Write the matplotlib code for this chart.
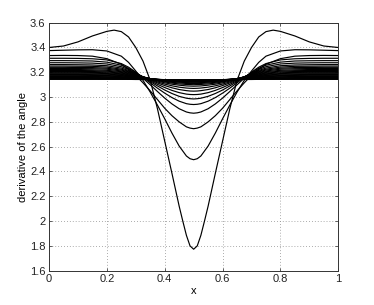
import matplotlib
matplotlib.use('Agg')
import matplotlib.pyplot as plt

# Profiles are symmetric about x = 0.5: values given for the left half (x from 0 to 0.5)
x_first = [0, 0.05, 0.1, 0.15, 0.2, 0.225, 0.25, 0.275, 0.3, 0.325, 0.35, 0.375, 0.4, 0.425, 0.45, 0.4625, 0.475, 0.4875, 0.5]
x_half = [0, 0.05, 0.1, 0.15, 0.2, 0.25, 0.275, 0.3, 0.325, 0.35, 0.375, 0.4, 0.425, 0.45, 0.475, 0.4875, 0.5]

curve_01 = [3.400, 3.412, 3.445, 3.493, 3.530, 3.540, 3.528, 3.485, 3.400, 3.290, 3.135, 2.905, 2.645, 2.385, 2.120, 2.000, 1.885, 1.800, 1.773]
curve_02 = [3.375, 3.378, 3.381, 3.382, 3.372, 3.330, 3.280, 3.210, 3.135, 3.040, 2.935, 2.825, 2.710, 2.605, 2.525, 2.503, 2.495]
curve_03 = [3.335, 3.336, 3.335, 3.330, 3.310, 3.265, 3.225, 3.175, 3.115, 3.050, 2.980, 2.910, 2.850, 2.800, 2.760, 2.750, 2.745]
curve_04 = [3.313, 3.313, 3.312, 3.309, 3.300, 3.270, 3.241, 3.201, 3.152, 3.099, 3.045, 2.992, 2.945, 2.906, 2.880, 2.873, 2.870]
curve_05 = [3.294, 3.294, 3.293, 3.291, 3.282, 3.257, 3.232, 3.199, 3.159, 3.115, 3.072, 3.032, 2.996, 2.967, 2.947, 2.942, 2.940]
curve_06 = [3.277, 3.277, 3.276, 3.274, 3.267, 3.245, 3.223, 3.195, 3.161, 3.125, 3.090, 3.057, 3.029, 3.006, 2.991, 2.987, 2.985]
curve_07 = [3.262, 3.262, 3.261, 3.259, 3.253, 3.234, 3.215, 3.191, 3.162, 3.132, 3.103, 3.077, 3.054, 3.036, 3.024, 3.021, 3.020]
curve_08 = [3.250, 3.250, 3.249, 3.248, 3.242, 3.225, 3.209, 3.188, 3.163, 3.138, 3.114, 3.093, 3.075, 3.061, 3.052, 3.049, 3.048]
curve_09 = [3.240, 3.240, 3.239, 3.238, 3.233, 3.218, 3.204, 3.185, 3.164, 3.142, 3.122, 3.105, 3.091, 3.080, 3.073, 3.071, 3.070]
curve_10 = [3.231, 3.231, 3.230, 3.229, 3.225, 3.211, 3.199, 3.183, 3.164, 3.146, 3.129, 3.115, 3.104, 3.096, 3.090, 3.089, 3.088]
curve_11 = [3.222, 3.222, 3.222, 3.220, 3.216, 3.205, 3.194, 3.180, 3.163, 3.148, 3.134, 3.122, 3.113, 3.106, 3.102, 3.101, 3.100]
curve_12 = [3.214, 3.214, 3.214, 3.213, 3.209, 3.199, 3.189, 3.176, 3.162, 3.149, 3.137, 3.127, 3.119, 3.114, 3.110, 3.109, 3.109]
curve_13 = [3.207, 3.207, 3.207, 3.206, 3.203, 3.193, 3.185, 3.174, 3.161, 3.149, 3.139, 3.131, 3.125, 3.120, 3.117, 3.116, 3.116]
curve_14 = [3.200, 3.200, 3.200, 3.199, 3.196, 3.188, 3.180, 3.170, 3.160, 3.149, 3.140, 3.133, 3.128, 3.124, 3.122, 3.121, 3.121]
curve_15 = [3.194, 3.194, 3.194, 3.193, 3.190, 3.183, 3.176, 3.168, 3.158, 3.149, 3.141, 3.135, 3.131, 3.128, 3.126, 3.125, 3.125]
curve_16 = [3.188, 3.188, 3.188, 3.187, 3.185, 3.178, 3.173, 3.165, 3.156, 3.148, 3.142, 3.137, 3.133, 3.130, 3.129, 3.128, 3.128]
curve_17 = [3.182, 3.182, 3.182, 3.181, 3.179, 3.174, 3.169, 3.162, 3.155, 3.148, 3.142, 3.138, 3.135, 3.133, 3.132, 3.131, 3.131]
curve_18 = [3.176, 3.176, 3.176, 3.175, 3.174, 3.169, 3.165, 3.159, 3.153, 3.147, 3.142, 3.139, 3.136, 3.135, 3.133, 3.133, 3.133]
curve_19 = [3.171, 3.171, 3.171, 3.170, 3.169, 3.165, 3.161, 3.157, 3.151, 3.147, 3.143, 3.140, 3.138, 3.136, 3.135, 3.135, 3.135]
curve_20 = [3.166, 3.166, 3.166, 3.166, 3.164, 3.161, 3.158, 3.154, 3.150, 3.146, 3.142, 3.140, 3.138, 3.137, 3.136, 3.136, 3.136]
curve_21 = [3.161, 3.161, 3.161, 3.161, 3.160, 3.157, 3.155, 3.151, 3.148, 3.145, 3.142, 3.140, 3.139, 3.138, 3.137, 3.137, 3.137]
curve_22 = [3.157, 3.157, 3.157, 3.157, 3.156, 3.154, 3.152, 3.149, 3.147, 3.144, 3.142, 3.140, 3.139, 3.139, 3.138, 3.138, 3.138]
curve_23 = [3.153, 3.153, 3.153, 3.153, 3.152, 3.151, 3.149, 3.147, 3.145, 3.143, 3.142, 3.141, 3.140, 3.139, 3.139, 3.139, 3.139]
curve_24 = [3.149, 3.149, 3.149, 3.149, 3.148, 3.147, 3.146, 3.145, 3.144, 3.143, 3.142, 3.141, 3.140, 3.140, 3.140, 3.140, 3.140]
curve_25 = [3.146, 3.146, 3.146, 3.146, 3.146, 3.145, 3.144, 3.144, 3.143, 3.142, 3.141, 3.141, 3.140, 3.140, 3.140, 3.140, 3.140]
curve_26 = [3.143, 3.143, 3.143, 3.143, 3.143, 3.143, 3.143, 3.142, 3.142, 3.142, 3.141, 3.141, 3.141, 3.141, 3.141, 3.141, 3.140]

x_ticks = [0, 0.2, 0.4, 0.6, 0.8, 1]
x_tick_labels = ['0', '0.2', '0.4', '0.6', '0.8', '1']
y_ticks = [1.6, 1.8, 2, 2.2, 2.4, 2.6, 2.8, 3, 3.2, 3.4, 3.6]
y_tick_labels = ['1.6', '1.8', '2', '2.2', '2.4', '2.6', '2.8', '3', '3.2', '3.4', '3.6']

later_curves = [curve_02, curve_03, curve_04, curve_05, curve_06, curve_07, curve_08, curve_09,
                curve_10, curve_11, curve_12, curve_13, curve_14, curve_15, curve_16, curve_17,
                curve_18, curve_19, curve_20, curve_21, curve_22, curve_23, curve_24, curve_25, curve_26]


def mirror(xs, ys):
    xf = list(xs) + [1 - v for v in reversed(xs[:-1])]
    yf = list(ys) + list(reversed(ys[:-1]))
    return xf, yf


plt.rcParams['font.family'] = ['Liberation Sans', 'DejaVu Sans']
fig = plt.figure(figsize=(3.74, 3.05), dpi=100)
ax = fig.add_axes([0.131, 0.1125, 0.7735, 0.8131])

xf, yf = mirror(x_first, curve_01)
ax.plot(xf, yf, color='black', lw=0.85)
for c in later_curves:
    xf, yf = mirror(x_half, c)
    ax.plot(xf, yf, color='black', lw=0.85)

ax.set_xlim(0, 1)
ax.set_ylim(1.6, 3.6)
ax.set_xticks(x_ticks)
ax.set_xticklabels(x_tick_labels)
ax.set_yticks(y_ticks)
ax.set_yticklabels(y_tick_labels)
ax.grid(True, linestyle=(0, (1, 2.5)), color='#909090', lw=0.6)
ax.tick_params(direction='in', length=2.5, width=0.5, labelsize=8, pad=2.5,
               top=True, right=True, colors='#222222')
for s in ax.spines.values():
    s.set_color('#333333')
    s.set_linewidth(0.7)
ax.set_xlabel('x', fontsize=8, labelpad=1)
ax.set_ylabel('derivative of the angle', fontsize=8, labelpad=1.5)
fig.savefig('out.png', dpi=100)
